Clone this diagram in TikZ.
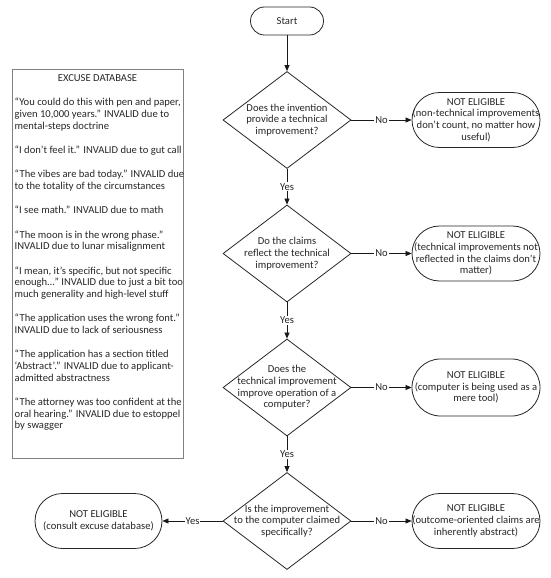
\documentclass[tikz,border=0pt]{standalone}
\usepackage{fontspec}
\setmainfont{Carlito}
\usepackage{xcolor}
\usepackage{tikz}
\usetikzlibrary{shapes.geometric,shapes.misc,arrows.meta,positioning}

\tikzset{
    terminal/.style={draw=black!85, line width=0.8pt, rounded rectangle, minimum width=73pt, minimum height=28pt, inner sep=0pt},
    endbox/.style={draw=black!85, line width=0.8pt, rounded rectangle, minimum width=128pt, minimum height=55pt, inner sep=0pt},
    decision/.style={draw=black!85, line width=0.8pt, diamond, minimum width=128pt, minimum height=97pt, inner sep=0pt},
    boxtext/.style={align=center, inner sep=0pt, text=black!85},
    flow/.style={draw=black!90, line width=0.7pt, -{Triangle[length=6pt,width=5pt]}},
    lbl/.style={fill=white, inner sep=1pt, text=black!85}
}

\begin{document}
\begin{tikzpicture}[x=1pt, y=-1pt, font=\fontsize{10.6}{11.7}\selectfont]
    \useasboundingbox (0,0) rectangle (550,578);

    % Excuse database
    \node[draw=black!50, line width=0.8pt, minimum width=171pt, minimum height=389pt, inner sep=0pt, anchor=north west] (db) at (12,69) {};
    \node[boxtext] (dbtitle) at (97.5,78) {EXCUSE DATABASE};
    \node[align=left, inner sep=0pt, anchor=north west, text=black!85] (dbbody) at (14.5,98) {%
        “You could do this with pen and paper,\\ given 10,000 years.” INVALID due to\\ mental-steps doctrine\\[12.6pt]
        “I don’t feel it.” INVALID due to gut call\\[12.6pt]
        “The vibes are bad today.” INVALID due\\ to the totality of the circumstances\\[12.6pt]
        “I see math.” INVALID due to math\\[12.6pt]
        “The moon is in the wrong phase.”\\ INVALID due to lunar misalignment\\[12.6pt]
        “I mean, it’s specific, but not specific\\ enough…” INVALID due to just a bit too\\ much generality and high-level stuff\\[12.6pt]
        “The application uses the wrong font.”\\ INVALID due to lack of seriousness\\[12.6pt]
        “The application has a section titled\\ ‘Abstract’.” INVALID due to applicant-\\ admitted abstractness\\[12.6pt]
        “The attorney was too confident at the\\ oral hearing.” INVALID due to estoppel\\ by swagger};

    % Start
    \node[terminal] (start) at (287,21) {};
    \node[boxtext] (startt) at (start) {Start};

    % Questions
    \node[decision] (q1) at (287,120) {};
    \node[boxtext] (q1t) at (q1) {Does the invention\\ provide a technical\\ improvement?};
    \node[decision] (q2) at (287,253.5) {};
    \node[boxtext] (q2t) at (q2) {Do the claims\\ reflect the technical\\ improvement?};
    \node[decision] (q3) at (287,387.5) {};
    \node[boxtext] (q3t) at (q3) {Does the\\ technical improvement\\ improve operation of a\\ computer?};
    \node[decision] (q4) at (287,521) {};
    \node[boxtext] (q4t) at (q4) {Is the improvement\\ to the computer claimed\\ specifically?};

    % Outcomes
    \node[endbox] (ne1) at (476,120) {};
    \node[boxtext] (ne1t) at (ne1) {NOT ELIGIBLE\\ (non-technical improvements\\ don’t count, no matter how\\ useful)};
    \node[endbox] (ne2) at (476,253.5) {};
    \node[boxtext] (ne2t) at (ne2) {NOT ELIGIBLE\\ (technical improvements not\\ reflected in the claims don’t\\ matter)};
    \node[endbox, minimum height=57pt] (ne3) at (476,387.5) {};
    \node[boxtext] (ne3t) at (ne3) {NOT ELIGIBLE\\ (computer is being used as a\\ mere tool)};
    \node[endbox] (ne4) at (476,521) {};
    \node[boxtext] (ne4t) at (ne4) {NOT ELIGIBLE\\ (outcome-oriented claims are\\ inherently abstract)};
    \node[endbox, minimum width=127pt] (ne0) at (98.5,521) {};
    \node[boxtext] (ne0t) at (ne0) {NOT ELIGIBLE\\ (consult excuse database)};

    % Connectors
    \draw[flow] (start.south) -- (q1.north);
    \draw[flow] (q1.south) -- node[lbl] {Yes} (q2.north);
    \draw[flow] (q2.south) -- node[lbl] {Yes} (q3.north);
    \draw[flow] (q3.south) -- node[lbl] {Yes} (q4.north);
    \draw[flow] (q1.east) -- node[lbl] {No} (ne1.west);
    \draw[flow] (q2.east) -- node[lbl] {No} (ne2.west);
    \draw[flow] (q3.east) -- node[lbl] {No} (ne3.west);
    \draw[flow] (q4.east) -- node[lbl] {No} (ne4.west);
    \draw[flow] (q4.west) -- node[lbl] {Yes} (ne0.east);
\end{tikzpicture}
\end{document}
